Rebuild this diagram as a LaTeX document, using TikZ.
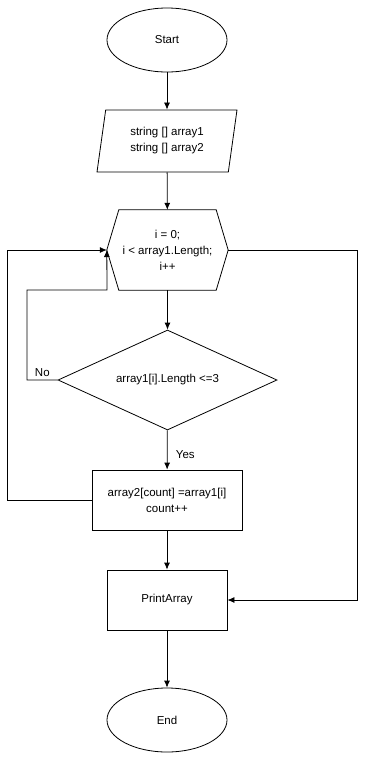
\documentclass[tikz,border=0pt]{standalone}
\usepackage{fontspec}
\setmainfont{Liberation Sans}
\usepackage{tikz}
\usetikzlibrary{shapes.geometric,arrows.meta}
\tikzset{
  terminal/.style={ellipse, draw, thick, minimum width=120pt, minimum height=64pt, inner sep=0pt},
  iobox/.style={trapezium, draw, thick, trapezium left angle=72, trapezium right angle=108,
    trapezium stretches body, minimum width=140pt, minimum height=62pt, inner sep=0pt, align=center},
  procbox/.style={rectangle, draw, thick, minimum width=#1, minimum height=60pt, inner sep=0pt, align=center},
  decision/.style={diamond, draw, thick, aspect=2.19, minimum width=219pt, minimum height=100pt, inner sep=0pt},
  flow/.style={thick, -{Latex[length=7pt,width=6pt]}},
}

\begin{document}
\begin{tikzpicture}[x=1pt, y=-1pt, font=\fontsize{11.5}{16}\selectfont]
            \useasboundingbox (0,0) rectangle (366,761);
            \node[terminal] (start) at (167,40) {Start};
            \node[iobox] (input) at (167,141) {string [] array1\\string [] array2};
            % loop header drawn as a hexagon around an empty box
            \node[minimum width=121pt, minimum height=80pt, align=center, inner sep=0pt] (loop) at (167.5,250) {i = 0;\\i < array1.Length;\\i++};
            \draw[thick] ([xshift=12pt]loop.north west) -- ([xshift=-12pt]loop.north east) -- (loop.east)
              -- ([xshift=-12pt]loop.south east) -- ([xshift=12pt]loop.south west) -- (loop.west) -- cycle;
            \node[decision] (check) at (167.5,380) {array1[i].Length <=3};
            \node[procbox=150pt] (copy) at (167,500) {array2[count] =array1[i]\\count++};
            \node[procbox=120pt] (print) at (167,600) {PrintArray};
            \node[terminal] (end) at (167,720) {End};
            \coordinate (nocorner) at (27,380);
            \coordinate (backcorner) at (7,500);
            \coordinate (exitcorner) at (357,250);

            \draw[flow] (start) -- (input);
            \draw[flow] (input) -- (loop);
            \draw[flow] (loop) -- (check);
            \draw[flow] (check) -- node[right, pos=0.62, xshift=5pt]{Yes} (copy);
            \draw[flow] (check.west) -- node[above, pos=0.5]{No} (nocorner) |- (107,290) -- (loop.west);
            \draw[flow] (copy.west) -- (backcorner) |- (loop.west);
            \draw[flow] (copy) -- (print);
            \draw[flow] (loop.east) -- (exitcorner) |- (print.east);
            \draw[flow] (print) -- (end);
        \end{tikzpicture}
\end{document}
